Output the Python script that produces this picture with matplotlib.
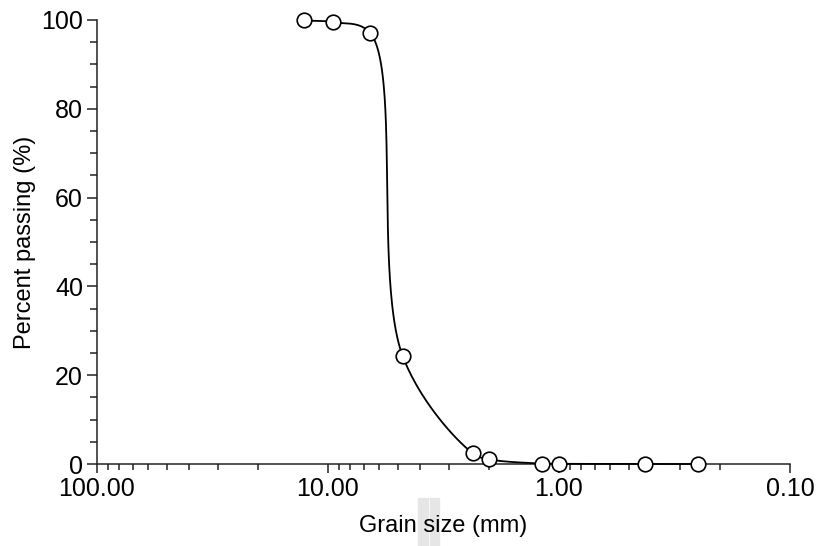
import numpy as np
import matplotlib
matplotlib.use("Agg")
import matplotlib.pyplot as plt
from matplotlib.ticker import FixedLocator, FixedFormatter, NullFormatter, LogLocator
from matplotlib.patches import Rectangle

plt.rcParams['font.family'] = ['Liberation Sans', 'DejaVu Sans']

grain_size_mm = [12.7, 9.5, 6.55, 4.75, 2.36, 2.0, 1.18, 1.0, 0.425, 0.25]
percent_passing = [99.9, 99.5, 97.0, 24.3, 2.4, 1.05, 0.1, 0.05, 0.0, 0.0]
x_tick_values = [100, 10, 1, 0.1]
x_tick_labels = ["100.00", "10.00", "1.00", "0.10"]
y_tick_values = [0, 20, 40, 60, 80, 100]

W, H = 816, 546
fig = plt.figure(figsize=(W / 100, H / 100), dpi=100)
ax_l, ax_r, ax_t, ax_b = 97, 790, 20, 464
ax = fig.add_axes([ax_l / W, 1 - ax_b / H, (ax_r - ax_l) / W, (ax_b - ax_t) / H])
ax.set_xscale('log')
ax.set_xlim(100, 0.1)
ax.set_ylim(0, 100)

# smooth connecting curve (centripetal Catmull-Rom in display-proportional space)
lx = np.log10(np.array(grain_size_mm, float))
u = (2 - lx) / 3 * (ax_r - ax_l)
v = np.array(percent_passing, float) / 100 * (ax_b - ax_t)
P = np.column_stack([u, v])
Pext = np.vstack([2 * P[0] - P[1], P, 2 * P[-1] - P[-2]])
pts = []
alpha = 0.5
for i in range(1, len(Pext) - 2):
    p0, p1, p2, p3 = Pext[i - 1], Pext[i], Pext[i + 1], Pext[i + 2]
    t0 = 0.0
    t1 = t0 + np.linalg.norm(p1 - p0) ** alpha
    t2 = t1 + np.linalg.norm(p2 - p1) ** alpha
    t3 = t2 + np.linalg.norm(p3 - p2) ** alpha
    t = np.linspace(t1, t2, 80)[:, None]
    A1 = (t1 - t) / (t1 - t0) * p0 + (t - t0) / (t1 - t0) * p1
    A2 = (t2 - t) / (t2 - t1) * p1 + (t - t1) / (t2 - t1) * p2
    A3 = (t3 - t) / (t3 - t2) * p2 + (t - t2) / (t3 - t2) * p3
    B1 = (t2 - t) / (t2 - t0) * A1 + (t - t0) / (t2 - t0) * A2
    B2 = (t3 - t) / (t3 - t1) * A2 + (t - t1) / (t3 - t1) * A3
    C = (t2 - t) / (t2 - t1) * B1 + (t - t1) / (t2 - t1) * B2
    pts.append(C)
pts = np.vstack(pts)
cx = 10 ** (2 - pts[:, 0] / (ax_r - ax_l) * 3)
cy = pts[:, 1] / (ax_b - ax_t) * 100
ax.plot(cx, cy, color='black', lw=1.3, zorder=3, clip_on=False)
ax.plot(grain_size_mm, percent_passing, linestyle='none', marker='o', ms=10.5,
        mfc='white', mec='black', mew=1.2, zorder=4, clip_on=False)

for s in ['top', 'right']:
    ax.spines[s].set_visible(False)
for s in ['left', 'bottom']:
    ax.spines[s].set_color('#222222')
    ax.spines[s].set_linewidth(1.1)

ax.xaxis.set_major_locator(FixedLocator(x_tick_values))
ax.xaxis.set_major_formatter(FixedFormatter(x_tick_labels))
ax.xaxis.set_minor_locator(LogLocator(base=10, subs=np.arange(2, 10)))
ax.xaxis.set_minor_formatter(NullFormatter())
ax.set_yticks(y_tick_values)
ax.set_yticks(np.arange(0, 101, 5), minor=True)

ax.tick_params(axis='both', which='both', direction='out', color='#222222', width=1.1,
               labelsize=18, labelcolor='black')
ax.tick_params(axis='y', which='major', length=7, pad=3)
ax.tick_params(axis='y', which='minor', length=5)
ax.tick_params(axis='x', which='major', length=6.5, pad=3)
ax.tick_params(axis='x', which='minor', length=4.5)

ax.set_xlabel('Grain size (mm)', fontsize=17, labelpad=10)
ax.set_ylabel('Percent passing (%)', fontsize=17, labelpad=4)

# light grey artefact bands at the bottom
fig.patches.append(Rectangle((418 / W, 0), 10 / W, 48 / H, transform=fig.transFigure,
                             color='#e6e6e6', zorder=-1))
fig.patches.append(Rectangle((430 / W, 0), 9 / W, 48 / H, transform=fig.transFigure,
                             color='#e6e6e6', zorder=-1))

fig.savefig('out.png', dpi=100)
